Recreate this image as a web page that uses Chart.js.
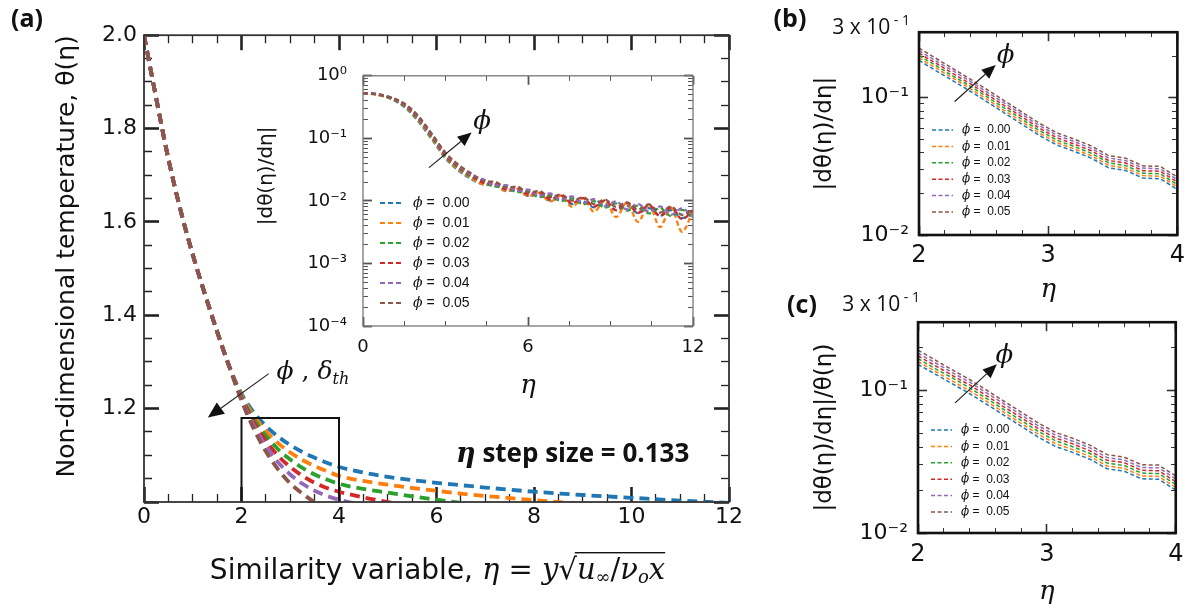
<!DOCTYPE html>
<html>
<head>
<meta charset="utf-8">
<script src="https://cdn.jsdelivr.net/npm/chart.js@4.4.1/dist/chart.umd.min.js"></script>
<style>
  body { margin: 0; background: #fff; }
  #wrap { position: relative; width: 1200px; height: 608px; overflow: hidden; background: #fff; }
  canvas { position: absolute; }
</style>
</head>
<body>
<div id="wrap">
  <canvas id="mainChart" width="760" height="608" style="left:0px;top:0px"></canvas>
  <canvas id="insetChart" width="480" height="380" style="left:250px;top:40px"></canvas>
  <canvas id="bChart" width="440" height="310" style="left:760px;top:0px"></canvas>
  <canvas id="cChart" width="440" height="318" style="left:760px;top:290px"></canvas>
</div>
<script>
// ---- data ----
let phiLabels = ['ϕ =  0.00', 'ϕ =  0.01', 'ϕ =  0.02', 'ϕ =  0.03', 'ϕ =  0.04', 'ϕ =  0.05'];
let phiColors = ['#1f77b4', '#ff7f0e', '#2ca02c', '#d62728', '#9467bd', '#8c564b'];

// (a) theta(eta)
let etaMain = [0, 0.25, 0.5, 0.75, 1, 1.25, 1.5, 1.75, 2, 2.25, 2.5, 2.75, 3, 3.25, 3.5, 3.75, 4, 4.5, 5, 5.5, 6, 6.5, 7, 8, 9, 10, 11, 12];
let theta000 = [2.0, 1.865, 1.735, 1.625, 1.53, 1.445, 1.365, 1.29, 1.232, 1.192, 1.163, 1.140, 1.122, 1.107, 1.095, 1.084, 1.075, 1.063, 1.054, 1.047, 1.041, 1.036, 1.031, 1.022, 1.015, 1.009, 1.003, 0.998];
let theta001 = [2.0, 1.865, 1.735, 1.625, 1.53, 1.445, 1.365, 1.29, 1.229, 1.185, 1.152, 1.126, 1.106, 1.090, 1.077, 1.066, 1.056, 1.045, 1.037, 1.030, 1.024, 1.018, 1.013, 1.004, 0.996, null, null, null];
let theta002 = [2.0, 1.865, 1.735, 1.625, 1.53, 1.445, 1.365, 1.29, 1.226, 1.178, 1.142, 1.113, 1.091, 1.073, 1.059, 1.048, 1.039, 1.028, 1.020, 1.012, 1.005, 0.998, null, null, null, null, null, null];
let theta003 = [2.0, 1.865, 1.735, 1.625, 1.53, 1.445, 1.365, 1.29, 1.223, 1.171, 1.131, 1.099, 1.075, 1.056, 1.041, 1.030, 1.022, 1.010, 1.000, 0.990, null, null, null, null, null, null, null, null];
let theta004 = [2.0, 1.865, 1.735, 1.625, 1.53, 1.445, 1.365, 1.29, 1.220, 1.164, 1.120, 1.085, 1.059, 1.039, 1.024, 1.013, 1.005, 0.993, null, null, null, null, null, null, null, null, null, null];
let theta005 = [2.0, 1.865, 1.735, 1.625, 1.53, 1.445, 1.365, 1.29, 1.217, 1.157, 1.108, 1.070, 1.040, 1.018, 1.000, 0.990, null, null, null, null, null, null, null, null, null, null, null, null];
let boxEta = [2, 2, 4, 4];
let boxTheta = [1.0, 1.18, 1.18, 1.0];

// inset |dtheta/deta|
let etaInset = [0, 0.5, 1, 1.5, 2, 2.5, 3, 3.5, 4, 4.4, 4.8, 5.2, 5.6, 6, 6.4, 6.8, 7.2, 7.6, 8, 8.4, 8.8, 9.2, 9.6, 10, 10.4, 10.8, 11.2, 11.6, 12];
let dIn000 = [0.53, 0.50, 0.43, 0.32, 0.19, 0.097, 0.048, 0.030, 0.0215, 0.0182, 0.0175, 0.0144, 0.0147, 0.0120, 0.0125, 0.0102, 0.0110, 0.0089, 0.0099, 0.0079, 0.0090, 0.0071, 0.0083, 0.0064, 0.0077, 0.0058, 0.0071, 0.0053, 0.0066];
let dIn001 = [0.53, 0.50, 0.435, 0.328, 0.198, 0.101, 0.050, 0.031, 0.0222, 0.0184, 0.0183, 0.0144, 0.0156, 0.0119, 0.0134, 0.0097, 0.0121, 0.0080, 0.0112, 0.0067, 0.0102, 0.0055, 0.0094, 0.0046, 0.0087, 0.0038, 0.0078, 0.0032, 0.0069];
let dIn002 = [0.53, 0.505, 0.44, 0.336, 0.206, 0.105, 0.052, 0.0325, 0.0233, 0.0206, 0.0169, 0.0168, 0.0138, 0.0142, 0.0115, 0.0124, 0.0099, 0.0110, 0.0088, 0.0099, 0.0078, 0.0091, 0.0070, 0.0084, 0.0063, 0.0077, 0.0057, 0.0072, 0.0052];
let dIn003 = [0.53, 0.505, 0.445, 0.344, 0.214, 0.110, 0.054, 0.034, 0.0243, 0.0195, 0.0190, 0.0153, 0.0162, 0.0127, 0.0137, 0.0107, 0.0122, 0.0092, 0.0111, 0.0081, 0.0102, 0.0071, 0.0092, 0.0064, 0.0086, 0.0057, 0.0078, 0.0051, 0.0071];
let dIn004 = [0.53, 0.51, 0.45, 0.352, 0.222, 0.114, 0.057, 0.0355, 0.0253, 0.0219, 0.0177, 0.0179, 0.0144, 0.0152, 0.0121, 0.0132, 0.0104, 0.0118, 0.0092, 0.0107, 0.0082, 0.0098, 0.0073, 0.0090, 0.0067, 0.0082, 0.0060, 0.0076, 0.0055];
let dIn005 = [0.53, 0.51, 0.455, 0.36, 0.23, 0.119, 0.059, 0.037, 0.0264, 0.0206, 0.0202, 0.0163, 0.0170, 0.0136, 0.0144, 0.0115, 0.0126, 0.0101, 0.0114, 0.0089, 0.0105, 0.0080, 0.0095, 0.0072, 0.0088, 0.0065, 0.0081, 0.0060, 0.0073];

// (b) and (c), eta step 0.133
let etaZoom = [2.000, 2.133, 2.267, 2.400, 2.533, 2.667, 2.800, 2.933, 3.067, 3.200, 3.333, 3.467, 3.600, 3.733, 3.867, 4.000];
let dB000 = [0.187, 0.157, 0.132, 0.111, 0.0925, 0.0767, 0.0638, 0.0530, 0.0452, 0.0407, 0.0363, 0.0309, 0.0295, 0.0260, 0.0257, 0.0215];
let dB001 = [0.195, 0.164, 0.138, 0.116, 0.0964, 0.0799, 0.0665, 0.0552, 0.0471, 0.0424, 0.0378, 0.0322, 0.0307, 0.0271, 0.0268, 0.0224];
let dB002 = [0.203, 0.171, 0.143, 0.121, 0.1005, 0.0833, 0.0693, 0.0576, 0.0491, 0.0442, 0.0394, 0.0336, 0.0320, 0.0282, 0.0279, 0.0233];
let dB003 = [0.211, 0.178, 0.149, 0.126, 0.1046, 0.0867, 0.0722, 0.0599, 0.0511, 0.0460, 0.0411, 0.0349, 0.0334, 0.0294, 0.0291, 0.0243];
let dB004 = [0.220, 0.185, 0.156, 0.131, 0.1090, 0.0904, 0.0752, 0.0625, 0.0533, 0.0480, 0.0428, 0.0364, 0.0348, 0.0307, 0.0303, 0.0253];
let dB005 = [0.230, 0.193, 0.162, 0.136, 0.1136, 0.0942, 0.0783, 0.0651, 0.0555, 0.0500, 0.0446, 0.0379, 0.0362, 0.0319, 0.0316, 0.0264];

let dC000 = [0.152, 0.130, 0.111, 0.0949, 0.0798, 0.0668, 0.0561, 0.0470, 0.0404, 0.0367, 0.0329, 0.0282, 0.0271, 0.0240, 0.0238, 0.0200];
let dC001 = [0.159, 0.136, 0.116, 0.0994, 0.0836, 0.0699, 0.0587, 0.0492, 0.0423, 0.0384, 0.0344, 0.0295, 0.0284, 0.0251, 0.0249, 0.0209];
let dC002 = [0.167, 0.142, 0.122, 0.104, 0.0875, 0.0732, 0.0615, 0.0515, 0.0443, 0.0402, 0.0361, 0.0309, 0.0297, 0.0263, 0.0261, 0.0219];
let dC003 = [0.174, 0.149, 0.127, 0.109, 0.0915, 0.0766, 0.0643, 0.0539, 0.0463, 0.0421, 0.0377, 0.0323, 0.0311, 0.0275, 0.0273, 0.0229];
let dC004 = [0.182, 0.156, 0.133, 0.114, 0.0958, 0.0802, 0.0673, 0.0564, 0.0485, 0.0440, 0.0395, 0.0338, 0.0325, 0.0288, 0.0286, 0.0240];
let dC005 = [0.191, 0.163, 0.139, 0.119, 0.1001, 0.0838, 0.0704, 0.0590, 0.0507, 0.0461, 0.0413, 0.0354, 0.0340, 0.0301, 0.0299, 0.0251];

// tick positions
let mainXTicks = [0, 2, 4, 6, 8, 10, 12];
let mainXMinor = [0.5, 1, 1.5, 2.5, 3, 3.5, 4.5, 5, 5.5, 6.5, 7, 7.5, 8.5, 9, 9.5, 10.5, 11, 11.5];
let mainYTicks = [1.0, 1.2, 1.4, 1.6, 1.8, 2.0];
let mainYMinor = [1.05, 1.1, 1.15, 1.25, 1.3, 1.35, 1.45, 1.5, 1.55, 1.65, 1.7, 1.75, 1.85, 1.9, 1.95];
let insetXTicks = [0, 6, 12];
let insetXMinor = [1.5, 3, 4.5, 7.5, 9, 10.5];
let insetYTicks = [1e-4, 1e-3, 1e-2, 1e-1, 1];
let zoomXTicks = [2, 3, 4];
let zoomXMinor = [2.2, 2.4, 2.6, 2.8, 3.2, 3.4, 3.6, 3.8];
let zoomYTicks = [0.01, 0.1];

function logMinor(lo, hi) {
  let out = [];
  for (let d = lo; d < hi * 0.999; d *= 10) {
    for (let k = 2; k <= 9; k++) out.push(k * d);
  }
  return out;
}
function sorted(a) { return a.slice().sort((p, q) => p - q); }

let mainXAll = sorted(mainXTicks.concat(mainXMinor));
let mainYAll = sorted(mainYTicks.concat(mainYMinor));
let insetXAll = sorted(insetXTicks.concat(insetXMinor));
let insetYAll = sorted(insetYTicks.concat(logMinor(1e-4, 1)));
let zoomXAll = sorted(zoomXTicks.concat(zoomXMinor));
let zoomYAll = sorted(zoomYTicks.concat(logMinor(0.01, 0.1), [0.2, 0.3]));

Chart.defaults.font.family = "'DejaVu Sans', sans-serif";
Chart.defaults.color = '#111';
Chart.defaults.animation = false;

const sups = { '-': '⁻', '0': '⁰', '1': '¹', '2': '²', '3': '³', '4': '⁴' };
function pow10Label(v) {
  let e = Math.round(Math.log10(v));
  return '10' + String(e).split('').map(c => sups[c]).join('');
}
function isMajor(majors, v) {
  return majors.some(m => Math.abs(m - v) <= 1e-9 + 1e-6 * Math.abs(m));
}

function pts(xv, yv) {
  return xv.map((x, i) => ({ x: x, y: yv[i] }));
}

// Chart.js tick marks turned inward (negative length); minor ticks are cut short with a dash
function inwardGrid(majors, color, majorLen, minorLen, majorW, minorW, fromAxis) {
  return {
    display: true, drawOnChartArea: false, drawTicks: true,
    tickLength: -majorLen, tickColor: color,
    tickWidth: c => (c.tick && isMajor(majors, c.tick.value)) ? majorW : minorW,
    tickBorderDash: c => (c.tick && isMajor(majors, c.tick.value)) ? [] :
      (fromAxis ? [minorLen, 300] : [0, majorLen - minorLen, minorLen, 300])
  };
}

// tick-only axis on the top or right edge
function edgeScale(type, pos, min, max, values, grid) {
  return {
    type: type, position: pos, min: min, max: max,
    afterBuildTicks: s => { s.ticks = values.map(v => ({ value: v })); },
    ticks: { display: false, autoSkip: false },
    grid: grid, border: { display: false },
    afterFit: s => { if (pos === 'top') s.height = 0; else s.width = 0; }
  };
}

function drawRich(ctx, x, y, parts, align, base) {
  ctx.save();
  ctx.textBaseline = base || 'alphabetic';
  ctx.textAlign = 'left';
  let w = 0;
  parts.forEach(p => { ctx.font = p.f; p.w = ctx.measureText(p.t).width; w += p.w; });
  let cx = align === 'center' ? x - w / 2 : (align === 'right' ? x - w : x);
  let ox0 = null, ox1 = null;
  parts.forEach(p => {
    ctx.font = p.f;
    ctx.fillStyle = '#111';
    ctx.fillText(p.t, cx, y + (p.dy || 0));
    if (p.over) { if (ox0 === null) ox0 = cx - 2; ox1 = cx + p.w; }
    cx += p.w;
  });
  if (ox0 !== null) {
    ctx.fillStyle = '#111';
    ctx.fillRect(ox0, y - 27, ox1 - ox0, 1.4);
  }
  ctx.restore();
}

function drawArrow(ctx, x1, y1, x2, y2, head, hw) {
  let ang = Math.atan2(y2 - y1, x2 - x1);
  let bx = x2 - head * Math.cos(ang), by = y2 - head * Math.sin(ang);
  ctx.beginPath(); ctx.moveTo(x1, y1); ctx.lineTo(bx, by); ctx.stroke();
  ctx.beginPath();
  ctx.moveTo(x2, y2);
  ctx.lineTo(bx + hw * Math.sin(ang), by - hw * Math.cos(ang));
  ctx.lineTo(bx - hw * Math.sin(ang), by + hw * Math.cos(ang));
  ctx.closePath();
  ctx.fill();
}

function drawFrame(chart, f) {
  const ctx = chart.ctx, a = chart.chartArea;
  ctx.save();
  ctx.setLineDash([]);
  ctx.strokeStyle = f.frameColor;
  ctx.lineWidth = f.frameWidth;
  ctx.strokeRect(a.left, a.top, a.right - a.left, a.bottom - a.top);
  ctx.restore();
}

function drawLegend(chart, g) {
  const ctx = chart.ctx, a = chart.chartArea;
  ctx.save();
  chart.data.datasets.forEach((ds, i) => {
    if (!ds.label) return;
    let y = a.bottom - g.fromBottom + i * g.step;
    let x0 = a.left + g.dx;
    ctx.strokeStyle = ds.borderColor;
    ctx.lineWidth = g.lw;
    ctx.setLineDash(g.dash);
    ctx.beginPath(); ctx.moveTo(x0, y); ctx.lineTo(x0 + g.len, y); ctx.stroke();
    ctx.setLineDash([]);
    drawRich(ctx, x0 + g.len + g.gap, y, [
      { t: ds.label[0], f: 'italic ' + g.size + "px 'DejaVu Serif'" },
      { t: ds.label.slice(1), f: g.size + "px 'Liberation Sans'" }
    ], 'left', 'middle');
  });
  ctx.restore();
}

function drawNotes(chart, notes) {
  const ctx = chart.ctx, xs = chart.scales.x, ys = chart.scales.y;
  ctx.save();
  ctx.setLineDash([]);
  ctx.strokeStyle = '#222';
  ctx.fillStyle = '#111';
  ctx.lineWidth = 1.2;
  (notes.arrows || []).forEach(ar => {
    drawArrow(ctx, xs.getPixelForValue(ar.from[0]), ys.getPixelForValue(ar.from[1]),
      xs.getPixelForValue(ar.to[0]), ys.getPixelForValue(ar.to[1]), ar.head, ar.hw);
  });
  (notes.texts || []).forEach(t => {
    let x = t.pixel ? t.at[0] : xs.getPixelForValue(t.at[0]);
    let y = t.pixel ? t.at[1] : ys.getPixelForValue(t.at[1]);
    drawRich(ctx, x, y, t.parts, t.align, t.base);
  });
  ctx.restore();
}

function decorPlugin(frame, notes, legend) {
  return {
    id: 'decor',
    afterDatasetsDraw(chart) {
      if (legend) drawLegend(chart, legend);
    },
    afterDraw(chart) {
      drawNotes(chart, notes);
      drawFrame(chart, frame);
    }
  };
}

// phi = 0.05 is drawn on top, phi = 0.00 underneath
function phiSets(xv, series, width, dash, smooth) {
  return series.map((s, i) => ({
    label: phiLabels[i],
    data: pts(xv, s),
    order: series.length - i,
    borderColor: phiColors[i],
    borderWidth: width,
    borderDash: dash,
    pointRadius: 0,
    fill: false,
    spanGaps: false,
    cubicInterpolationMode: smooth ? 'monotone' : 'default',
    tension: 0
  }));
}

const serifI = "'DejaVu Serif'";

// ---------- (a) main panel ----------
let mainSets = phiSets(etaMain, [theta000, theta001, theta002, theta003, theta004, theta005], 3.8, [10, 6], true);
mainSets.forEach(d => { d.label = ''; });
mainSets.push({
  label: '', data: pts(boxEta, boxTheta), order: 0, borderColor: '#111', borderWidth: 2,
  pointRadius: 0, fill: false, tension: 0
});

new Chart(document.getElementById('mainChart'), {
  type: 'line',
  data: { datasets: mainSets },
  options: {
    responsive: false,
    devicePixelRatio: 1,
    events: [],
    layout: { padding: { left: 0, right: 29, top: 33, bottom: 0 } },
    plugins: { legend: { display: false }, tooltip: { enabled: false } },
    scales: {
      x: {
        type: 'linear', position: 'bottom', min: 0, max: 12,
        afterBuildTicks: s => { s.ticks = mainXAll.map(v => ({ value: v })); },
        ticks: { font: { size: 22 }, padding: 17, maxRotation: 0, autoSkip: false,
          callback: v => isMajor(mainXTicks, v) ? String(v) : '' },
        grid: inwardGrid(mainXTicks, '#222', 15, 8, 2.6, 1.3, true), border: { display: false },
        afterFit: s => { s.height = 106; }
      },
      x2: edgeScale('linear', 'top', 0, 12, mainXAll, inwardGrid(mainXTicks, '#222', 15, 8, 2.6, 1.3, false)),
      y: {
        type: 'linear', position: 'left', min: 1, max: 2,
        afterBuildTicks: s => { s.ticks = mainYAll.map(v => ({ value: v })); },
        ticks: { font: { size: 22 }, padding: 22, autoSkip: false,
          callback: v => (isMajor(mainYTicks, v) && v > 1.01) ? v.toFixed(1) : '' },
        grid: inwardGrid(mainYTicks, '#222', 15, 8, 2.6, 1.3, false), border: { display: false },
        title: { display: true, text: 'Non-dimensional temperature, θ(η)', align: 'end', font: { size: 25 }, padding: { top: 52, bottom: 0 }, color: '#111' },
        afterFit: s => { s.width = 144; }
      },
      y2: edgeScale('linear', 'right', 1, 2, mainYAll, inwardGrid(mainYTicks, '#222', 15, 8, 2.6, 1.3, true))
    }
  },
  plugins: [decorPlugin(
    { frameWidth: 1.8, frameColor: '#333' },
    {
      arrows: [{ from: [2.56, 1.275], to: [1.31, 1.181], head: 16, hw: 7 }],
      texts: [
        { at: [2.72, 1.264], align: 'left', parts: [
          { t: 'ϕ', f: 'italic 25px ' + serifI }, { t: ' , ', f: '25px ' + serifI },
          { t: 'δ', f: 'italic 25px ' + serifI }, { t: 'th', f: 'italic 16px ' + serifI, dy: 5 }] },
        { at: [6.4, 1.085], align: 'left', parts: [
          { t: 'η', f: 'italic bold 27px ' + serifI }, { t: ' step size = 0.133', f: "bold 26px 'Open Sans'" }] },
        { pixel: true, at: [437.5, 579], align: 'center', parts: [
          { t: 'Similarity variable, ', f: "28px 'DejaVu Sans'" },
          { t: 'η', f: 'italic 29px ' + serifI }, { t: ' = ', f: '29px ' + serifI },
          { t: 'y', f: 'italic 29px ' + serifI }, { t: '√', f: "29px 'DejaVu Sans'" },
          { t: 'u', f: 'italic 29px ' + serifI, over: true },
          { t: '∞', f: '18px ' + serifI, dy: 4, over: true },
          { t: '/', f: '29px ' + serifI, over: true },
          { t: 'ν', f: 'italic 29px ' + serifI, over: true },
          { t: 'o', f: 'italic 18px ' + serifI, dy: 4, over: true },
          { t: 'x', f: 'italic 29px ' + serifI, over: true }] },
        { pixel: true, at: [27, 20], align: 'center', base: 'middle', parts: [{ t: '(a)', f: "bold 25px 'Open Sans'" }] }
      ]
    },
    null)]
});

// ---------- inset ----------
new Chart(document.getElementById('insetChart'), {
  type: 'line',
  data: { datasets: phiSets(etaInset, [dIn000, dIn001, dIn002, dIn003, dIn004, dIn005], 2.3, [5, 3], true) },
  options: {
    responsive: false,
    devicePixelRatio: 1,
    events: [],
    layout: { padding: { left: 0, right: 37, top: 22, bottom: 0 } },
    plugins: { legend: { display: false }, tooltip: { enabled: false } },
    scales: {
      x: {
        type: 'linear', position: 'bottom', min: 0, max: 12,
        afterBuildTicks: s => { s.ticks = insetXAll.map(v => ({ value: v })); },
        ticks: { font: { size: 18 }, padding: 20, maxRotation: 0, autoSkip: false,
          callback: v => isMajor(insetXTicks, v) ? String(v) : '' },
        grid: inwardGrid(insetXTicks, '#555', 9, 5, 1.8, 1, true), border: { display: false },
        title: { display: true, text: 'η', font: { size: 26, style: 'italic', family: serifI }, padding: { top: 0, bottom: 18 }, color: '#111' },
        afterFit: s => { s.height = 94; }
      },
      x2: edgeScale('linear', 'top', 0, 12, insetXAll, inwardGrid(insetXTicks, '#555', 9, 5, 1.8, 1, false)),
      y: {
        type: 'logarithmic', position: 'left', min: 1e-4, max: 1,
        afterBuildTicks: s => { s.ticks = insetYAll.map(v => ({ value: v })); },
        ticks: { font: { size: 18 }, padding: 25, autoSkip: false,
          callback: v => isMajor(insetYTicks, v) ? pow10Label(v) : '' },
        grid: inwardGrid(insetYTicks, '#555', 9, 5, 1.8, 1, false), border: { display: false },
        title: { display: true, text: '\u2003\u2003\u2002|dθ(η)/dη|', font: { size: 20 }, padding: { top: 5, bottom: 0 }, color: '#111' },
        afterFit: s => { s.width = 113; }
      },
      y2: edgeScale('logarithmic', 'right', 1e-4, 1, insetYAll, inwardGrid(insetYTicks, '#555', 9, 5, 1.8, 1, true))
    }
  },
  plugins: [decorPlugin(
    { frameWidth: 1.3, frameColor: '#777' },
    {
      arrows: [{ from: [2.4, 0.034], to: [3.95, 0.124], head: 14, hw: 6 }],
      texts: [{ at: [4.33, 0.181], align: 'center', base: 'middle', parts: [{ t: 'ϕ', f: 'italic 26px ' + serifI }] }]
    },
    { dx: 17, len: 23, gap: 10, fromBottom: 123, step: 20, lw: 2, dash: [5, 3], size: 14 })]
});

// ---------- (b) and (c) ----------
function zoomPanel(id, series, cfg) {
  new Chart(document.getElementById(id), {
    type: 'line',
    data: { datasets: phiSets(etaZoom, series, 1.5, [4, 2.5], false) },
    options: {
      responsive: false,
      devicePixelRatio: 1,
      events: [],
      layout: { padding: { left: 0, right: cfg.padRight, top: cfg.padTop, bottom: 0 } },
      plugins: { legend: { display: false }, tooltip: { enabled: false } },
      scales: {
        x: {
          type: 'linear', position: 'bottom', min: 2, max: 4,
          afterBuildTicks: s => { s.ticks = zoomXAll.map(v => ({ value: v })); },
          ticks: { font: { size: 24 }, padding: cfg.xPad + 9, maxRotation: 0, autoSkip: false,
            callback: v => isMajor(zoomXTicks, v) ? String(v) : '' },
          grid: inwardGrid(zoomXTicks, '#333', 9, 5, 1.6, 1, true), border: { display: false },
          title: { display: true, text: 'η', font: { size: 26, style: 'italic', family: serifI }, padding: { top: 0, bottom: cfg.titlePad }, color: '#111' },
          afterFit: s => { s.height = 75; }
        },
        x2: edgeScale('linear', 'top', 2, 4, zoomXAll, inwardGrid(zoomXTicks, '#333', 9, 5, 1.6, 1, false)),
        y: {
          type: 'logarithmic', position: 'left', min: 0.01, max: 0.3,
          afterBuildTicks: s => { s.ticks = zoomYAll.map(v => ({ value: v })); },
          // the 3 x 10^-1 label at the top is placed with the notes
          ticks: { font: { size: 22 }, padding: 19, autoSkip: false,
            callback: v => isMajor(zoomYTicks, v) ? pow10Label(v) : '' },
          grid: inwardGrid(zoomYTicks, '#333', 9, 5, 1.6, 1, false), border: { display: false },
          title: { display: true, text: cfg.yTitle, font: { size: 23 }, padding: { top: 51, bottom: 0 }, color: '#111' },
          afterFit: s => { s.width = cfg.yWidth; }
        },
        y2: edgeScale('logarithmic', 'right', 0.01, 0.3, zoomYAll, inwardGrid(zoomYTicks, '#333', 9, 5, 1.6, 1, true))
      }
    },
    plugins: [decorPlugin(
      { frameWidth: 2.6, frameColor: '#111' },
      {
        arrows: [{ from: cfg.arrowFrom, to: cfg.arrowTo, head: 14, hw: 6 }],
        texts: [
          { at: cfg.phiAt, align: 'center', base: 'middle', parts: [{ t: 'ϕ', f: 'italic 26px ' + serifI }] },
          { pixel: true, at: cfg.tagAt, align: 'center', base: 'middle', parts: [{ t: cfg.tag, f: "bold 25px 'Open Sans'" }] },
          { pixel: true, at: cfg.topLabelAt, align: 'right', base: 'middle', parts: [
            { t: '3 x 10', f: "21px 'Open Sans'" }, { t: ' - 1', f: "14px 'Open Sans'", dy: -7 }] }
        ]
      },
      { dx: 13, len: 21, gap: 9, fromBottom: cfg.legendFromBottom, step: 16.4, lw: 1.5, dash: [4, 2.5], size: 12 })]
  });
}

zoomPanel('bChart', [dB000, dB001, dB002, dB003, dB004, dB005], {
  padRight: 15, padTop: 22, yWidth: 159, xPad: 6, titlePad: 4, yTitle: '|dθ(η)/dη|',
  legendFromBottom: 105, arrowFrom: [2.276, 0.0938], arrowTo: [2.594, 0.173], phiAt: [2.67, 0.202],
  tag: '(b)', tagAt: [30, 20], topLabelAt: [150, 28]
});
zoomPanel('cChart', [dC000, dC001, dC002, dC003, dC004, dC005], {
  padRight: 14, padTop: 31, yWidth: 158, xPad: 7.6, titlePad: 0, yTitle: '|dθ(η)/dη|/θ(η)',
  legendFromBottom: 103, arrowFrom: [2.288, 0.0817], arrowTo: [2.612, 0.152], phiAt: [2.67, 0.172],
  tag: '(c)', tagAt: [42, 16], topLabelAt: [160, 15]
});
</script>
</body>
</html>
